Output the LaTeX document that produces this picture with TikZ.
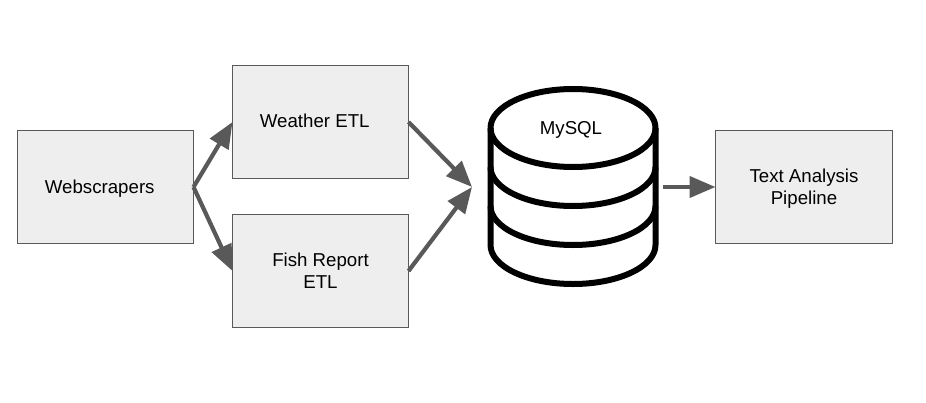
\documentclass[tikz,border=0pt]{standalone}
\usepackage{fontspec}
\setmainfont{Liberation Sans}
\usetikzlibrary{arrows.meta}
\definecolor{boxfill}{HTML}{EEEEEE}
\definecolor{linegray}{HTML}{595959}
\newcommand{\baseat}[2]{\raisebox{#1}[0pt][0pt]{\begin{tabular}[t]{@{}c@{}}#2\end{tabular}}}
\tikzset{
  etlbox/.style={draw=linegray,fill=boxfill,line width=0.9pt,outer sep=0pt,minimum width=176pt,minimum height=113pt,inner sep=0pt,align=center,font=\fontsize{18.67pt}{22.2pt}\selectfont,anchor=north west,text height=0pt,text depth=0pt},
  flow/.style={draw=linegray,line width=4.2pt,-{Triangle[length=26pt,width=21pt]}},
  dbline/.style={draw=black,line width=6pt,line join=round}
}
\begin{document}
\begin{tikzpicture}[x=1pt,y=-1pt]
\useasboundingbox (0,0) rectangle (926,402);
\fill[white] (0,0) rectangle (926,402);
\node[etlbox] (web) at (17.5,130.5) {\baseat{-6.5pt}{Webscrapers}\hspace*{11.5pt}};
\node[etlbox] (weather) at (232.5,65.5) {\baseat{-5.7pt}{Weather ETL}\hspace*{11.5pt}};
\node[etlbox] (fish) at (232.5,214.5) {\baseat{4.8pt}{Fish Report\\ETL}};
\node[etlbox,minimum width=177pt] (text) at (715.5,130.5) {\baseat{5pt}{Text Analysis\\Pipeline}};
% database cylinder
\draw[dbline] (490.5,128) arc[start angle=180,end angle=540,x radius=82.5pt,y radius=39pt];
\draw[dbline] (490.5,128) -- (490.5,245) arc[start angle=180,end angle=360,x radius=82.5pt,y radius=39pt] -- (655.5,128);
\draw[dbline] (490.5,167) arc[start angle=180,end angle=360,x radius=82.5pt,y radius=39pt];
\draw[dbline] (490.5,206) arc[start angle=180,end angle=360,x radius=82.5pt,y radius=39pt];
\node[font=\fontsize{18.67pt}{22.2pt}\selectfont,inner sep=0pt,anchor=base] (db) at (571,134) {MySQL};
\coordinate (dbin) at (472,187);
\coordinate (dbout) at (663,187);
\draw[flow] (web.east) -- (weather.west);
\draw[flow] (web.east) -- (fish.west);
\draw[flow] (weather.east) -- (dbin);
\draw[flow] (fish.east) -- (dbin);
\draw[flow] (dbout) -- (text.west);
\end{tikzpicture}
\end{document}
